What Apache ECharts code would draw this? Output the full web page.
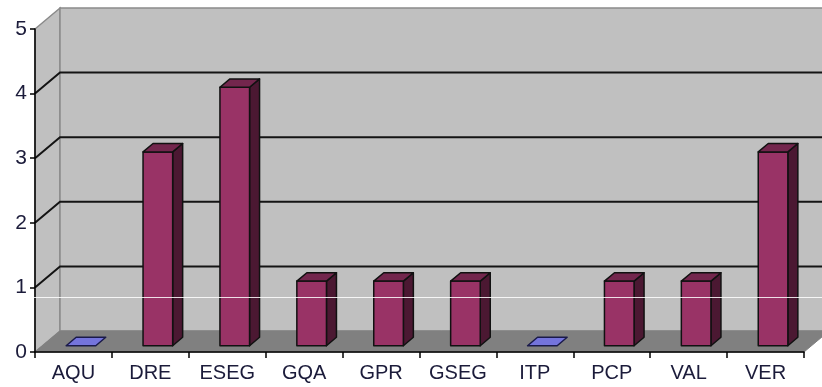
<!DOCTYPE html>
<html>
<head>
<meta charset="utf-8">
<style>
  html, body { margin: 0; padding: 0; background: #ffffff; }
  #chart { width: 822px; height: 387px; }
</style>
<script src="https://cdn.jsdelivr.net/npm/echarts@6/dist/echarts.min.js"></script>
</head>
<body>
<div id="chart"></div>
<script>
// Categories and counts
const categories = ['AQU', 'DRE', 'ESEG', 'GQA', 'GPR', 'GSEG', 'ITP', 'PCP', 'VAL', 'VER'];
const counts = [0, 3, 4, 1, 1, 1, 0, 1, 1, 3];
const yTicks = [0, 1, 2, 3, 4, 5];

// Perspective offset of the back wall (pixels) and bar placement in depth
const DEPTH_X = 25, DEPTH_Y = -21;
const BAR_FRONT = 0.3, BAR_DEPTH = 0.4, BAR_WIDTH = 0.385;

const chart = echarts.init(document.getElementById('chart'), null, { renderer: 'canvas' });

const fontFamily = 'Liberation Sans, Arial, sans-serif';
const textColor = '#1b1b3a';

function renderScene(params, api) {
  const cs = params.coordSys;
  const x0 = cs.x, x1 = cs.x + cs.width;
  const yTop = api.coord([0, yTicks[yTicks.length - 1]])[1];
  const yBase = api.coord([0, yTicks[0]])[1];
  const children = [];
  // side wall
  children.push({ type: 'polygon', shape: { points: [[x0, yTop], [x0 + DEPTH_X, yTop + DEPTH_Y], [x0 + DEPTH_X, yBase + DEPTH_Y], [x0, yBase]] },
    style: { fill: '#c0c0c0', stroke: '#8a8a8a', lineWidth: 1.5 } });
  // back wall
  children.push({ type: 'polygon', shape: { points: [[x0 + DEPTH_X, yTop + DEPTH_Y], [x1 + DEPTH_X, yTop + DEPTH_Y], [x1 + DEPTH_X, yBase + DEPTH_Y], [x0 + DEPTH_X, yBase + DEPTH_Y]] },
    style: { fill: '#c0c0c0', stroke: '#8a8a8a', lineWidth: 1.5 } });
  // grid lines on walls
  yTicks.slice(1, -1).forEach(v => {
    const y = api.coord([0, v])[1];
    children.push({ type: 'polyline', shape: { points: [[x0, y], [x0 + DEPTH_X, y + DEPTH_Y], [x1 + DEPTH_X, y + DEPTH_Y]] },
      style: { fill: null, stroke: '#141414', lineWidth: 2 } });
  });
  // floor
  children.push({ type: 'polygon', shape: { points: [[x0, yBase], [x1, yBase], [x1 + DEPTH_X, yBase + DEPTH_Y], [x0 + DEPTH_X, yBase + DEPTH_Y]] },
    style: { fill: '#808080', stroke: '#808080', lineWidth: 1 } });
  return { type: 'group', children };
}

function renderBar(params, api) {
  const i = api.value(0), v = api.value(1);
  const top = api.coord([i, v]);
  const base = api.coord([i, 0]);
  const bw = api.size([1, 0])[0] * BAR_WIDTH;
  const fx = BAR_FRONT * DEPTH_X, fy = BAR_FRONT * DEPTH_Y;
  const dx = BAR_DEPTH * DEPTH_X, dy = BAR_DEPTH * DEPTH_Y;
  const xl = top[0] - bw / 2 + fx, xr = top[0] + bw / 2 + fx;
  const yt = top[1] + fy, yb = base[1] + fy;
  const children = [];
  const edge = { stroke: '#111111', lineWidth: 1.5, lineJoin: 'round' };
  if (v > 0) {
    children.push({ type: 'polygon', shape: { points: [[xr, yt], [xr + dx, yt + dy], [xr + dx, yb + dy], [xr, yb]] },
      style: Object.assign({ fill: '#4b1832' }, edge) });
    children.push({ type: 'rect', shape: { x: xl, y: yt, width: bw, height: yb - yt },
      style: Object.assign({ fill: '#993366' }, edge) });
    children.push({ type: 'polygon', shape: { points: [[xl, yt], [xl + dx, yt + dy], [xr + dx, yt + dy], [xr, yt]] },
      style: Object.assign({ fill: '#73264d' }, edge) });
  } else {
    children.push({ type: 'polygon', shape: { points: [[xl, yt], [xl + dx, yt + dy], [xr + dx, yt + dy], [xr, yt]] },
      style: { fill: '#7474dc', stroke: '#1a1a4a', lineWidth: 1.5, lineJoin: 'round' } });
  }
  return { type: 'group', children };
}

chart.setOption({
  animation: false,
  backgroundColor: '#ffffff',
  grid: { left: 35, right: 18, top: 29, bottom: 35, containLabel: false },
  xAxis: {
    type: 'category',
    data: categories,
    z: 10,
    axisLine: { lineStyle: { color: '#000000', width: 1.5 } },
    axisTick: { show: true, length: 6, lineStyle: { color: '#000000', width: 1.5 } },
    axisLabel: { margin: 11, fontFamily, fontSize: 20, color: textColor },
    splitLine: { show: false }
  },
  yAxis: {
    type: 'value',
    min: 0, max: 5, interval: 1,
    z: 10,
    axisLine: { show: true, lineStyle: { color: '#000000', width: 1.5 } },
    axisTick: { show: true, length: 5, lineStyle: { color: '#000000', width: 1.5 } },
    axisLabel: { margin: 8, fontFamily, fontSize: 21, color: textColor },
    splitLine: { show: false }
  },
  series: [
    {
      type: 'custom',
      z: 1,
      silent: true,
      renderItem: renderScene,
      data: [[0, 0]]
    },
    {
      type: 'custom',
      z: 5,
      renderItem: renderBar,
      encode: { x: 0, y: 1 },
      data: counts.map((c, i) => [i, c])
    }
  ],
  graphic: [
    { type: 'line', z: 100, silent: true, shape: { x1: 0, y1: 297.5, x2: 822, y2: 297.5 },
      style: { stroke: 'rgba(255,255,255,0.85)', lineWidth: 1 } }
  ]
});
</script>
</body>
</html>
